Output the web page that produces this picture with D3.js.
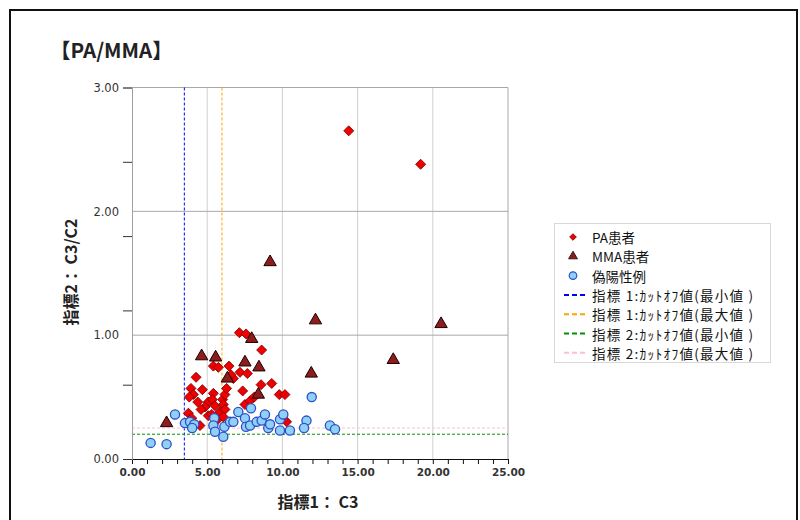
<!DOCTYPE html>
<html><head><meta charset="utf-8">
<script src="https://cdn.jsdelivr.net/npm/d3@7/dist/d3.min.js"></script>
<style>body{margin:0;background:#fff}svg{display:block}</style>
</head><body>
<svg id="c" width="800" height="520"></svg>
<script>
const title = "【PA/MMA】";
const xTitle = "指標1： C3";
const yTitle = "指標2： C3/C2";
const xTickLabels = [0, 5, 10, 15, 20, 25];
const yTickLabels = [0, 1, 2, 3];
const seriesNames = ["PA患者", "MMA患者", "偽陽性例"];
const cutoffNames = ["指標 1:ｶｯﾄｵﾌ値(最小値 )", "指標 1:ｶｯﾄｵﾌ値(最大値 )", "指標 2:ｶｯﾄｵﾌ値(最小値 )", "指標 2:ｶｯﾄｵﾌ値(最大値 )"];
const cutoffValues = [3.48, 5.98, 0.20, 0.25];
const paX = [14.41,19.19,7.14,7.58,8.62,5.41,5.74,6.45,4.26,6.74,7.18,7.67,6.58,9.29,8.58,4.68,3.92,4.08,3.81,5.41,7.36,4.37,5.07,5.34,5.52,4.85,4.59,6.03,6.18,6.29,6.07,5.85,6.18,6.07,3.75,3.97,5.07,5.63,9.79,10.17,7.51,7.85,8.13,10.28,4.52,5.30];
const paY = [2.65,2.38,1.02,1.01,0.88,0.75,0.74,0.75,0.66,0.65,0.70,0.69,0.68,0.61,0.60,0.56,0.57,0.52,0.50,0.53,0.55,0.46,0.46,0.48,0.43,0.42,0.40,0.48,0.52,0.57,0.44,0.38,0.40,0.34,0.37,0.33,0.35,0.31,0.52,0.52,0.44,0.47,0.50,0.30,0.27,0.36];
const mmaX = [12.20,20.55,17.37,11.92,9.18,7.96,4.63,5.56,7.51,8.44,6.34,8.40,2.30];
const mmaY = [1.12,1.09,0.80,0.69,1.59,0.97,0.83,0.82,0.78,0.74,0.65,0.52,0.29];
const fpX = [1.24,2.30,2.86,3.52,3.86,4.14,4.00,5.47,5.41,5.52,6.07,6.14,6.52,6.74,7.07,7.91,7.51,7.58,7.85,8.29,8.62,8.84,9.06,9.18,9.84,10.06,9.84,10.50,11.95,11.60,11.44,13.16,13.50];
const fpY = [0.13,0.12,0.36,0.29,0.30,0.28,0.25,0.33,0.27,0.22,0.18,0.26,0.30,0.30,0.38,0.41,0.33,0.26,0.27,0.30,0.31,0.36,0.25,0.28,0.32,0.36,0.23,0.23,0.50,0.31,0.25,0.27,0.24];

const svg = d3.select("#c");
const x = d3.scaleLinear([0, 25], [132, 508]);
const y = d3.scaleLinear([0, 3], [459, 87.5]);
const numFmt = d3.format(".2f");

// outer frame
svg.append("rect").attr("x", 10).attr("y", 10).attr("width", 787).attr("height", 530)
  .attr("fill", "none").attr("stroke", "#111").attr("stroke-width", 2);

// title
svg.append("text").attr("x", 50).attr("y", 58).text(title)
  .attr("font-family", "'Noto Sans CJK JP', sans-serif").attr("font-weight", "bold")
  .attr("font-size", 20.5).attr("fill", "#222");

// gridlines
const grid = svg.append("g");
grid.selectAll("line.v").data([5, 10, 15, 20]).join("line")
  .attr("x1", d => x(d)).attr("x2", d => x(d)).attr("y1", y(3)).attr("y2", y(0))
  .attr("stroke", "#d0d0d0").attr("stroke-width", 1);
grid.append("line").attr("x1", x(25)).attr("x2", x(25)).attr("y1", y(3)).attr("y2", y(0))
  .attr("stroke", "#a8a8a8").attr("stroke-width", 1);
grid.selectAll("line.h").data([1, 2, 3]).join("line")
  .attr("x1", x(0)).attr("x2", x(25)).attr("y1", d => y(d)).attr("y2", d => y(d))
  .attr("stroke", "#a8a8a8").attr("stroke-width", 1);

// cutoff lines
const cutoffColors = ["#0000ff", "#ffa500", "#009000", "#ffc0cb"];
const cut = svg.append("g").attr("stroke-width", 1).attr("stroke-dasharray", "3,2");
[0, 1].forEach(i => cut.append("line")
  .attr("x1", x(cutoffValues[i])).attr("x2", x(cutoffValues[i])).attr("y1", y(3)).attr("y2", y(0))
  .attr("stroke", cutoffColors[i]));
[2, 3].forEach(i => cut.append("line")
  .attr("x1", x(0)).attr("x2", x(25)).attr("y1", y(cutoffValues[i])).attr("y2", y(cutoffValues[i]))
  .attr("stroke", cutoffColors[i]));

// axes
const xAxis = svg.append("g").attr("transform", `translate(0,${y(0)})`)
  .call(d3.axisBottom(x).tickValues(d3.range(0, 26, 1)).tickSize(5).tickPadding(5)
    .tickFormat(d => xTickLabels.includes(d) ? numFmt(d) : ""));
xAxis.select(".domain").attr("stroke", "#111");
xAxis.selectAll(".tick line").attr("stroke", "#111");
xAxis.selectAll("text").attr("font-family", "'DejaVu Sans', sans-serif").attr("font-weight", "bold")
  .attr("font-size", 10.5).attr("fill", "#333");

const yAxisTicks = svg.append("g").attr("transform", `translate(${x(0)},0)`)
  .call(d3.axisLeft(y).tickValues([0, 0.6, 1.2, 1.8, 2.4, 3]).tickSize(9).tickFormat(""));
yAxisTicks.select(".domain").attr("stroke", "#a0a0a0");
yAxisTicks.selectAll(".tick line").attr("stroke", "#333");
const yAxisLabels = svg.append("g").attr("transform", `translate(${x(0)},0)`)
  .call(d3.axisLeft(y).tickValues(yTickLabels).tickSize(0).tickPadding(13).tickFormat(numFmt));
yAxisLabels.select(".domain").remove();
yAxisLabels.selectAll("text").attr("font-family", "'DejaVu Sans', sans-serif")
  .attr("font-size", 11.5).attr("fill", "#333");

// axis titles
svg.append("text").attr("x", 318).attr("y", 508).attr("text-anchor", "middle").text(xTitle)
  .attr("font-family", "'Noto Sans CJK JP', sans-serif").attr("font-weight", "bold")
  .attr("font-size", 16).attr("fill", "#222");
svg.append("text").attr("transform", "translate(77,272) rotate(-90)").attr("text-anchor", "middle").text(yTitle)
  .attr("font-family", "'Noto Sans CJK JP', sans-serif").attr("font-weight", "bold")
  .attr("font-size", 16).attr("fill", "#222");

// markers
const diamond = d3.symbol(d3.symbolSquare, 50);
const triangle = d3.symbol(d3.symbolTriangle, 66);
const plot = svg.append("g");
plot.selectAll("path.pa").data(d3.zip(paX, paY)).join("path")
  .attr("transform", d => `translate(${x(d[0])},${y(d[1])}) rotate(45)`).attr("d", diamond)
  .attr("fill", "#f00000").attr("stroke", "#7a0000").attr("stroke-width", 0.8);
plot.selectAll("path.mma").data(d3.zip(mmaX, mmaY)).join("path")
  .attr("transform", d => `translate(${x(d[0])},${y(d[1])})`).attr("d", triangle)
  .attr("fill", "#8e1c1c").attr("stroke", "#1a0000").attr("stroke-width", 1);
plot.selectAll("circle.fp").data(d3.zip(fpX, fpY)).join("circle")
  .attr("cx", d => x(d[0])).attr("cy", d => y(d[1])).attr("r", 4.6)
  .attr("fill", "#8fd0f5").attr("stroke", "#2f4fc8").attr("stroke-width", 1.3);

// legend
const lg = svg.append("g");
lg.append("rect").attr("x", 554.5).attr("y", 223.5).attr("width", 216).attr("height", 139)
  .attr("fill", "#fff").attr("stroke", "#d8d8d8");
const rowY = i => 237 + i * 19.3;
const textAttrs = sel => sel.attr("font-family", "'Noto Sans CJK JP', sans-serif")
  .attr("font-size", 13.5).attr("fill", "#111").attr("dominant-baseline", "central");
lg.append("path").attr("transform", `translate(573,${rowY(0)}) rotate(45)`).attr("d", d3.symbol(d3.symbolSquare, 22))
  .attr("fill", "#f00000").attr("stroke", "#7a0000").attr("stroke-width", 0.8);
lg.append("path").attr("transform", `translate(573,${rowY(1)})`).attr("d", d3.symbol(d3.symbolTriangle, 34))
  .attr("fill", "#8e1c1c").attr("stroke", "#1a0000").attr("stroke-width", 0.8);
lg.append("circle").attr("cx", 573).attr("cy", rowY(2)).attr("r", 3.8)
  .attr("fill", "#8fd0f5").attr("stroke", "#2f4fc8").attr("stroke-width", 1.2);
seriesNames.forEach((s, i) => lg.append("text").attr("x", 592).attr("y", rowY(i)).text(s).call(textAttrs));
cutoffNames.forEach((s, i) => {
  lg.append("line").attr("x1", 564).attr("x2", 585).attr("y1", rowY(i + 3)).attr("y2", rowY(i + 3))
    .attr("stroke", cutoffColors[i]).attr("stroke-width", 2).attr("stroke-dasharray", "5,3");
  lg.append("text").attr("x", 592).attr("y", rowY(i + 3)).text(s).call(textAttrs)
    .attr("textLength", 161).attr("lengthAdjust", "spacing");
});
</script>
</body></html>
